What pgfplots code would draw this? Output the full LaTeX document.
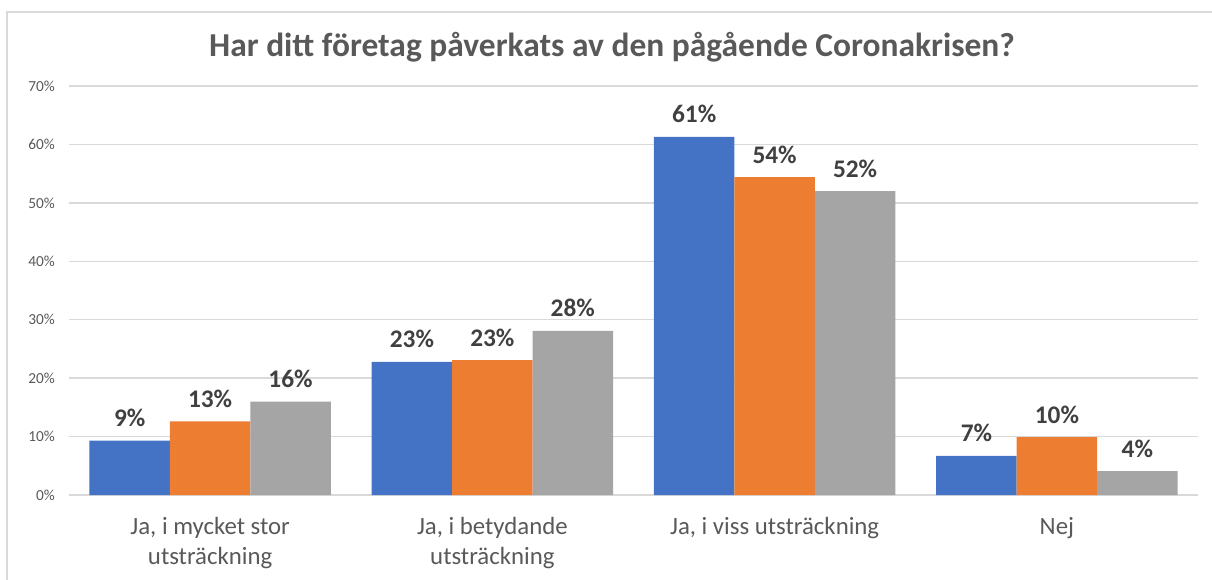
\documentclass[border=0pt]{standalone}
\usepackage{pgfplots}
\pgfplotsset{compat=1.18}
\usetikzlibrary{calc}
\usepackage{fontspec}
\setmainfont{Carlito}
\definecolor{cblue}{HTML}{4472C4}
\definecolor{corange}{HTML}{ED7D31}
\definecolor{cgrey}{HTML}{A5A5A5}
\definecolor{gridc}{HTML}{D9D9D9}
\definecolor{txt}{HTML}{595959}
\definecolor{lbl}{HTML}{404040}
\begin{document}
\begin{tikzpicture}
\begin{axis}[
  name=ax,
  scale only axis,
  width=846.75pt, height=306.75pt,
  xmin=-0.5, xmax=3.5,
  ymin=0, ymax=70,
  ytick={0,10,...,70},
  xtick={0,1,2,3},
  xticklabels={{Ja, i mycket stor\\utsträckning},{Ja, i betydande\\utsträckning},{Ja, i viss utsträckning},{Nej}},
  xticklabel style={align=center, font=\fontsize{18.6}{22.5}\selectfont, text=txt, anchor=north, yshift=-13.5pt},
  yticklabel={\pgfmathprintnumber{\tick}\%},
  yticklabel style={font=\fontsize{11.5}{13}\selectfont, text=txt, xshift=-7pt},
  /pgf/number format/assume math mode=true,
  ymajorgrids,
  grid style={gridc, line width=1pt},
  axis line style={draw=none},
  major tick length=0pt,
  ybar,
  bar width=0.285,
  nodes near coords={\pgfmathprintnumber[fixed,precision=0]{\pgfplotspointmeta}\%},
  nodes near coords style={font=\fontsize{19}{21}\selectfont\bfseries, text=lbl, anchor=base, yshift=10.5pt},
  clip=false,
]
\addplot[fill=cblue, draw=none, bar shift=-0.285] coordinates {(0,9.3) (1,22.8) (2,61.3) (3,6.7)};
\addplot[fill=corange, draw=none, bar shift=0] coordinates {(0,12.6) (1,23.1) (2,54.4) (3,9.9)};
\addplot[fill=cgrey, draw=none, bar shift=0.285] coordinates {(0,16.0) (1,28.1) (2,52.0) (3,4.1)};
\end{axis}
\path[use as bounding box] (ax.south west) ++(-51.75pt,-63pt) rectangle ++(909pt,434.25pt);
\draw[gridc, line width=1.2pt] ($(ax.south west)+(-46.5pt,-70pt)$) -- ($(ax.south west)+(-46.5pt,362.25pt)$) -- ($(ax.south west)+(900pt,362.25pt)$);
\node[anchor=base, text=txt, font=\fontsize{25.1}{28}\selectfont\bfseries] at ($(ax.south west)+(407.25pt,329pt)$) {Har ditt företag påverkats av den pågående Coronakrisen?};
\end{tikzpicture}
\end{document}
